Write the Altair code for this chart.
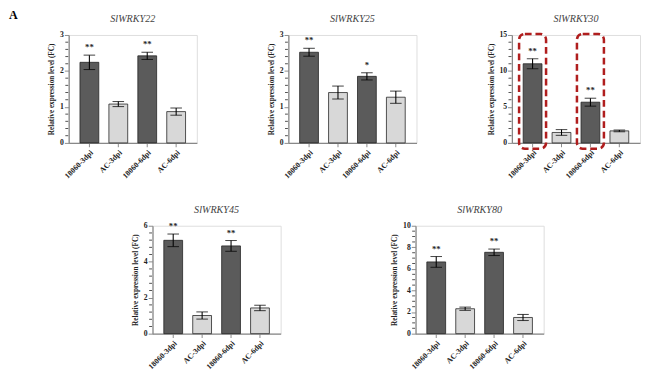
import altair as alt
import pandas as pd

samples = ["18060-3dpi", "AC-3dpi", "18060-6dpi", "AC-6dpi"]
groups = ["18060", "AC", "18060", "AC"]

genes = ["SlWRKY22", "SlWRKY25", "SlWRKY30", "SlWRKY45", "SlWRKY80"]

wrky22_mean = [2.24, 1.08, 2.42, 0.87]
wrky22_err = [0.20, 0.07, 0.10, 0.10]
wrky22_star = ["**", "", "**", ""]

wrky25_mean = [2.52, 1.40, 1.85, 1.27]
wrky25_err = [0.11, 0.18, 0.10, 0.17]
wrky25_star = ["**", "", "*", ""]

wrky30_mean = [11.0, 1.45, 5.66, 1.67]
wrky30_err = [0.70, 0.40, 0.55, 0.12]
wrky30_star = ["**", "", "**", ""]

wrky45_mean = [5.19, 1.01, 4.88, 1.43]
wrky45_err = [0.35, 0.20, 0.30, 0.15]
wrky45_star = ["**", "", "**", ""]

wrky80_mean = [6.65, 2.31, 7.54, 1.50]
wrky80_err = [0.50, 0.15, 0.30, 0.28]
wrky80_star = ["**", "", "**", ""]

# y-axis: max, major step, minor step
wrky22_axis = [3, 1, 0.2]
wrky25_axis = [3, 1, 0.2]
wrky30_axis = [15, 5, 1]
wrky45_axis = [6, 2, 0.4]
wrky80_axis = [10, 2, 0.5]

# highlighted samples (red dashed boxes) in SlWRKY30
wrky30_boxes = ["18060-3dpi", "18060-6dpi"]
wrky30_box_range = [-0.8, 15.15]

panel_letter = ["A"]

SERIF = "Liberation Serif"
W, H = 133, 112


def panel(gene, means, errs, stars, axis_spec, boxes=None, box_range=None):
    ymax, major, minor = axis_spec
    n_major = int(round(ymax / major))
    majors = [round(i * major, 4) for i in range(n_major + 1)]
    n_minor = int(round(ymax / minor))
    minors = [round(i * minor, 4) for i in range(n_minor + 1)]
    minors = [v for v in minors if abs(v / major - round(v / major)) > 1e-6]
    df = pd.DataFrame({
        "sample": samples,
        "group": groups,
        "mean": means,
        "lo": [m - e for m, e in zip(means, errs)],
        "hi": [m + e for m, e in zip(means, errs)],
        "star": stars,
    })
    xaxis = alt.Axis(title=None, labelAngle=-45, labelAlign="right", labelBaseline="top",
                     labelFont=SERIF, labelFontWeight="bold", labelFontSize=8, labelOverlap=False,
                     labelColor="#222", tickSize=4, labelPadding=2, domainWidth=1.3)
    xscale = alt.Scale(paddingInner=0.35, paddingOuter=0.39)
    xenc = alt.X("sample:N", sort=samples, scale=xscale, axis=xaxis)
    yscale = alt.Scale(domain=[0, ymax], nice=False)
    yaxis = alt.Axis(
        title="Relative expression level (FC)", values=majors, format="d",
        tickSize=4.5, labelOverlap=False,
        labelFont=SERIF, labelFontWeight="bold", labelFontSize=8, labelColor="#222",
        titleFont=SERIF, titleFontWeight="bold", titleFontSize=7.5, titleColor="#222",
        titlePadding=4, labelPadding=1, grid=False, domainWidth=1.3,
    )

    def Y(field):
        return alt.Y(field, scale=yscale, axis=yaxis)

    base = alt.Chart(df).encode(x=xenc)
    bars = base.mark_bar(stroke="#222", strokeWidth=0.8).encode(
        y=Y("mean:Q"),
        fill=alt.Fill("group:N", scale=alt.Scale(domain=["18060", "AC"], range=["#5b5b5b", "#d8d8d8"]), legend=None),
    )
    mdf = pd.DataFrame({"v": minors})
    minor_ticks = alt.Chart(mdf).mark_tick(color="black", size=3, thickness=1).encode(
        y=Y("v:Q"), x=alt.value(-2))
    rule = base.mark_rule(color="black", strokeWidth=1.1).encode(y=Y("lo:Q"), y2="hi:Q")
    cap_lo = base.mark_tick(color="black", size=12, thickness=1.1).encode(y=Y("lo:Q"))
    cap_hi = base.mark_tick(color="black", size=12, thickness=1.1).encode(y=Y("hi:Q"))
    txt = base.mark_text(font=SERIF, fontWeight="bold", fontSize=9, baseline="alphabetic", dy=-5, color="#222").encode(
        y=Y("hi:Q"), text="star:N")
    layers = [bars, minor_ticks, rule, cap_lo, cap_hi, txt]
    if boxes:
        bdf = pd.DataFrame({"sample": boxes, "b0": [box_range[0]] * len(boxes), "b1": [box_range[1]] * len(boxes)})
        box = alt.Chart(bdf).mark_bar(
            filled=False, stroke="#b01e1e", strokeWidth=2.6, strokeDash=[7, 4], cornerRadius=6, width=28, clip=False
        ).encode(x=alt.X("sample:N", sort=samples, scale=xscale, axis=xaxis), y=Y("b0:Q"), y2="b1:Q")
        layers.append(box)
    return alt.layer(*layers).properties(
        width=W, height=H,
        title=alt.TitleParams(gene, font=SERIF, fontStyle="italic", fontWeight="normal",
                              fontSize=10.5, color="#444", offset=7),
    )


p1 = panel(genes[0], wrky22_mean, wrky22_err, wrky22_star, wrky22_axis)
p2 = panel(genes[1], wrky25_mean, wrky25_err, wrky25_star, wrky25_axis)
p3 = panel(genes[2], wrky30_mean, wrky30_err, wrky30_star, wrky30_axis, boxes=wrky30_boxes, box_range=wrky30_box_range)
p4 = panel(genes[3], wrky45_mean, wrky45_err, wrky45_star, wrky45_axis)
p5 = panel(genes[4], wrky80_mean, wrky80_err, wrky80_star, wrky80_axis)

letter = alt.Chart(pd.DataFrame({"t": panel_letter})).mark_text(
    font=SERIF, fontWeight="bold", fontSize=12.5, align="left", baseline="middle", color="black"
).encode(x=alt.value(0), y=alt.value(-21), text="t:N").properties(
    width=1, height=H, view=alt.ViewBackground(stroke="transparent", fill="transparent"))

spacer = alt.Chart(pd.DataFrame({"t": [""]})).mark_text(opacity=0).encode(
    x=alt.value(0), y=alt.value(0), text="t:N").properties(
    width=40, height=H, view=alt.ViewBackground(stroke="transparent", fill="transparent"))

top = alt.hconcat(letter, alt.hconcat(alt.hconcat(p1, p2, spacing=72), p3, spacing=72), spacing=30)
bottom = alt.hconcat(spacer, alt.hconcat(p4, p5, spacing=113), spacing=86)

chart = alt.vconcat(top, bottom, spacing=25).properties(
    padding={"left": 0, "top": -7, "right": 0, "bottom": 0}
).configure_view(stroke="transparent", strokeWidth=0).configure_axis(
    domainColor="black", tickColor="black", tickWidth=1.1
).configure(background="white")

chart.save("out.html", embed_options={"renderer": "svg", "actions": False})
